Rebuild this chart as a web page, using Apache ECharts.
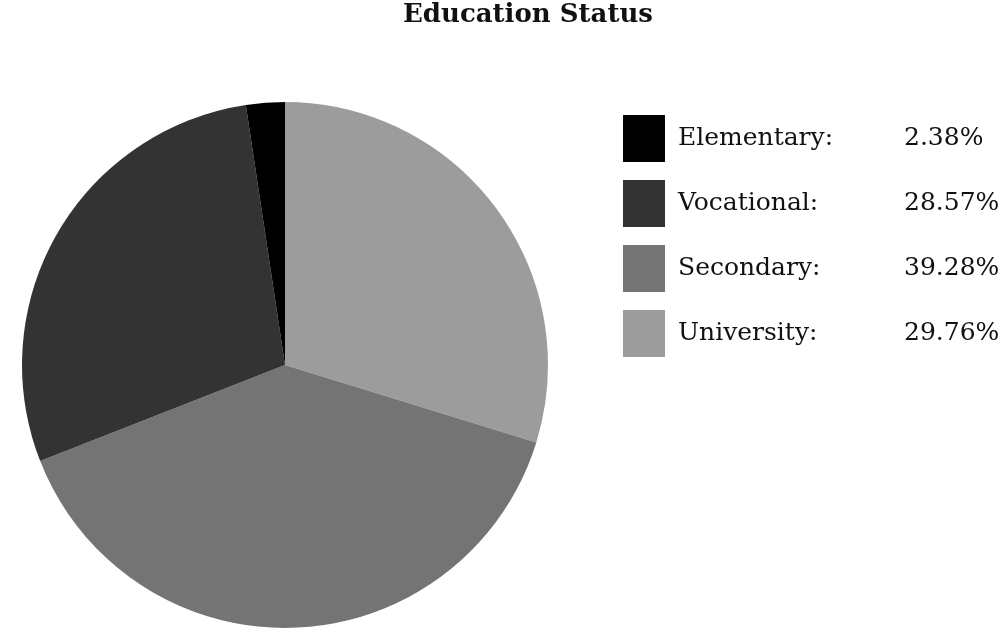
<!DOCTYPE html>
<html>
<head>
<meta charset="utf-8">
<script src="https://cdn.jsdelivr.net/npm/echarts@6/dist/echarts.min.js"></script>
<style>html,body{margin:0;padding:0;background:#fff}#c{width:1000px;height:637px}</style>
</head>
<body>
<div id="c"></div>
<script>
// Data
const titleText = 'Education Status';
const pieOrder = ['University', 'Secondary', 'Vocational', 'Elementary'];
const pieValues = [29.76, 39.28, 28.57, 2.38];
const legendOrder = ['Elementary', 'Vocational', 'Secondary', 'University'];
const sliceColors = { Elementary: '#000000', Vocational: '#333333', Secondary: '#747474', University: '#9c9c9c' };

const chart = echarts.init(document.getElementById('c'), null, { renderer: 'canvas' });
const valueOf = {};
pieOrder.forEach((n, i) => valueOf[n] = pieValues[i]);

chart.setOption({
  animation: false,
  backgroundColor: '#fff',
  title: {
    text: titleText,
    left: 398, top: -3,
    textStyle: { fontFamily: 'DejaVu Serif', fontWeight: 'bold', fontSize: 26, color: '#111' }
  },
  legend: {
    orient: 'vertical',
    left: 618, top: 110,
    itemWidth: 42, itemHeight: 47, itemGap: 18,
    icon: 'rect',
    data: legendOrder,
    itemStyle: { borderWidth: 0 },
    formatter: function (name) {
      return '{a|' + name + ':}{b|' + valueOf[name].toFixed(2) + '%}';
    },
    textStyle: {
      fontFamily: 'DejaVu Serif', fontSize: 25, color: '#111',
      rich: {
        a: { fontFamily: 'DejaVu Serif', fontSize: 25, color: '#111', width: 226, padding: [0, 0, 0, 8] },
        b: { fontFamily: 'DejaVu Serif', fontSize: 25, color: '#111' }
      }
    }
  },
  series: [{
    type: 'pie',
    center: [285, 365],
    radius: [0, 263],
    startAngle: 90,
    clockwise: true,
    label: { show: false },
    labelLine: { show: false },
    emphasis: { disabled: true },
    itemStyle: { borderWidth: 0 },
    data: pieOrder.map((n, i) => ({ name: n, value: pieValues[i], itemStyle: { color: sliceColors[n] } }))
  }]
});
</script>
</body>
</html>
